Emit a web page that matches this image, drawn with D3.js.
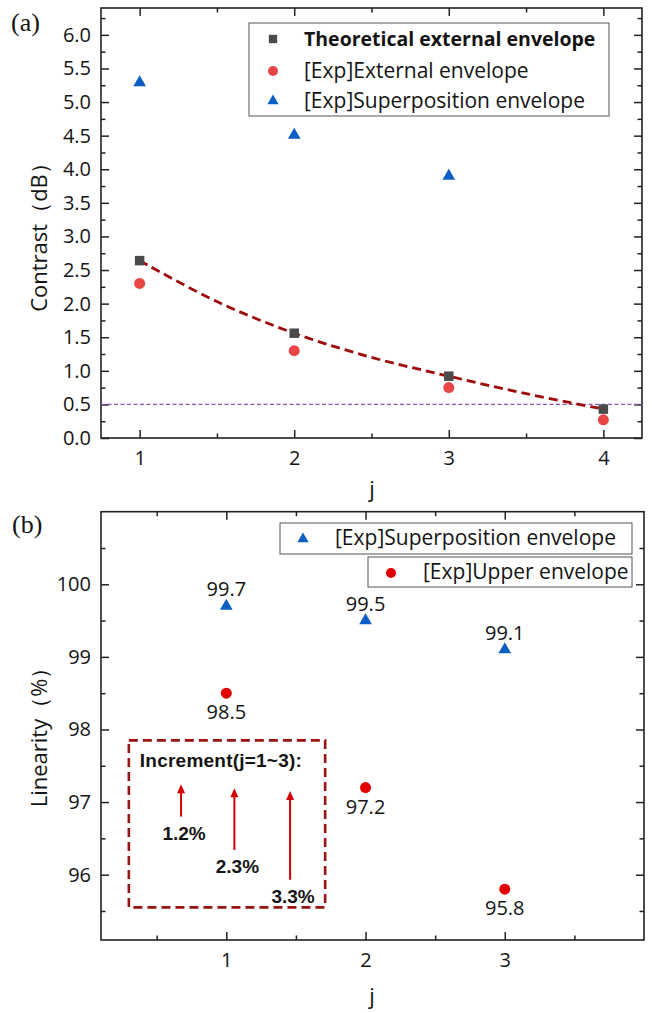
<!DOCTYPE html>
<html><head><meta charset="utf-8">
<script src="https://cdn.jsdelivr.net/npm/d3@7"></script>
<style>body{margin:0;background:#fff}svg{display:block}</style>
</head><body>
<script>
// ---------- data ----------
const jA = [1, 2, 3, 4];
const theoretical = [2.64, 1.56, 0.92, 0.43];
const expExternal = [2.30, 1.30, 0.75, 0.27];
const jSup = [1, 2, 3];
const expSuperA = [5.29, 4.51, 3.90];
const fitJ = [1, 1.5, 2, 2.5, 3, 3.5, 4];
const fitVal = [2.64, 2.03, 1.56, 1.20, 0.92, 0.66, 0.43];
const threshold = 0.5;
const yTicksA = [0, 0.5, 1, 1.5, 2, 2.5, 3, 3.5, 4, 4.5, 5, 5.5, 6];
const xTicksA = [1, 2, 3, 4];

const jB = [1, 2, 3];
const linSuper = [99.7, 99.5, 99.1];
const linUpper = [98.5, 97.2, 95.8];
const increments = [1.2, 2.3, 3.3];
const incX = [0.675, 1.058, 1.458];          // arrow positions (j units)
const incBase = [96.80, 96.34, 95.93];       // arrow tail (linearity units)
const yTicksB = [96, 97, 98, 99, 100];
const xTicksB = [1, 2, 3];

const W = 652, H = 1013;
const svg = d3.select("body").append("svg").attr("width", W).attr("height", H);
const FONT = "'Open Sans', 'Noto Sans', sans-serif";
const INK = "#141414";
const WT = 500;

function frame(g, x, y, majX, minX, majY, minY, yFmt) {
  const [x0, x1] = x.range(), [y0, y1] = y.range();
  const M = 8, m = 4.5;
  g.append("g").attr("transform", `translate(0,${y0})`)
    .call(d3.axisBottom(x).tickValues(majX).tickSize(-M).tickPadding(13).tickFormat(d3.format("d")));
  g.append("g").attr("transform", `translate(0,${y0})`)
    .call(d3.axisBottom(x).tickValues(minX).tickSize(-m).tickFormat(""));
  g.append("g").attr("transform", `translate(0,${y1})`)
    .call(d3.axisTop(x).tickValues(majX).tickSize(-M).tickFormat(""));
  g.append("g").attr("transform", `translate(0,${y1})`)
    .call(d3.axisTop(x).tickValues(minX).tickSize(-m).tickFormat(""));
  g.append("g").attr("transform", `translate(${x0},0)`)
    .call(d3.axisLeft(y).tickValues(majY).tickSize(-M).tickPadding(10).tickFormat(yFmt));
  g.append("g").attr("transform", `translate(${x0},0)`)
    .call(d3.axisLeft(y).tickValues(minY).tickSize(-m).tickFormat(""));
  g.append("g").attr("transform", `translate(${x1},0)`)
    .call(d3.axisRight(y).tickValues(majY).tickSize(-M).tickFormat(""));
  g.append("g").attr("transform", `translate(${x1},0)`)
    .call(d3.axisRight(y).tickValues(minY).tickSize(-m).tickFormat(""));
  g.selectAll(".domain").remove();
  g.selectAll(".tick line").attr("stroke", "#222").attr("stroke-width", 1.5);
  g.selectAll(".tick text").attr("font-family", FONT).attr("font-size", 20).attr("font-weight", WT).attr("fill", INK);
  g.append("rect").attr("x", x0).attr("y", y1).attr("width", x1 - x0).attr("height", y0 - y1)
    .attr("fill", "none").attr("stroke", "#222").attr("stroke-width", 1.6);
}

const tri = d3.symbol().type(d3.symbolTriangle).size(70);
const sq = d3.symbol().type(d3.symbolSquare).size(90);

// ================= Panel (a) =================
const xa = d3.scaleLinear().domain([0.75, 4.25]).range([101, 642]);
const ya = d3.scaleLinear().domain([0, 6.4]).range([438, 8]);
const ga = svg.append("g");
const minYA = d3.range(0, 6.4, 0.25).filter(v => Math.abs(v * 2 - Math.round(v * 2)) > 1e-6);
frame(ga, xa, ya, xTicksA, [1.5, 2.5, 3.5], yTicksA, minYA, d3.format(".1f"));

ga.append("line").attr("x1", xa.range()[0]).attr("x2", xa.range()[1])
  .attr("y1", ya(threshold)).attr("y2", ya(threshold))
  .attr("stroke", "#8a55b0").attr("stroke-width", 1.3).attr("stroke-dasharray", "4,2.5");

ga.append("path").datum(fitJ.map((j, i) => [j, fitVal[i]]))
  .attr("d", d3.line().x(d => xa(d[0])).y(d => ya(d[1])).curve(d3.curveCatmullRom))
  .attr("fill", "none").attr("stroke", "#9e0b0b").attr("stroke-width", 2.8).attr("stroke-dasharray", "9,5");

ga.selectAll(".sq").data(jA).join("path")
  .attr("transform", (d, i) => `translate(${xa(d)},${ya(theoretical[i])})`)
  .attr("d", sq).attr("fill", "#4a4a4a");
ga.selectAll(".ci").data(jA).join("circle")
  .attr("cx", d => xa(d)).attr("cy", (d, i) => ya(expExternal[i])).attr("r", 5.5).attr("fill", "#e84646");
ga.selectAll(".tr").data(jSup).join("path")
  .attr("transform", (d, i) => `translate(${xa(d)},${ya(expSuperA[i])})`)
  .attr("d", tri).attr("fill", "#0b5fc4");

// legend (a)
const la = ga.append("g");
la.append("rect").attr("x", 249).attr("y", 23).attr("width", 360).attr("height", 93)
  .attr("fill", "#fff").attr("stroke", "#555").attr("stroke-width", 1);
la.append("path").attr("transform", "translate(273,39)").attr("d", d3.symbol().type(d3.symbolSquare).size(70)).attr("fill", "#4a4a4a");
la.append("circle").attr("cx", 273).attr("cy", 71).attr("r", 5).attr("fill", "#e84646");
la.append("path").attr("transform", "translate(273,101)").attr("d", d3.symbol().type(d3.symbolTriangle).size(55)).attr("fill", "#0b5fc4");
const legA = ["Theoretical external envelope", "[Exp]External envelope", "[Exp]Superposition envelope"];
la.selectAll("text").data(legA).join("text")
  .attr("x", 304).attr("y", (d, i) => [39, 71, 101][i]).attr("dy", "0.35em")
  .attr("font-family", FONT).attr("font-size", (d, i) => i === 0 ? 19.5 : 21).attr("font-weight", (d, i) => i === 0 ? 700 : WT)
  .attr("fill", INK).text(d => d);

// labels (a)
svg.append("text").attr("x", 11).attr("y", 31).attr("font-family", "'Liberation Serif', serif")
  .attr("font-size", 26).attr("fill", INK).text("(a)");
svg.append("text").attr("transform", "translate(47,232) rotate(-90)").attr("text-anchor", "middle")
  .attr("font-family", FONT).attr("font-size", 22).attr("font-weight", WT).attr("fill", INK).text("Contrast（dB）");
svg.append("text").attr("x", 372).attr("y", 497).attr("text-anchor", "middle")
  .attr("font-family", FONT).attr("font-size", 22).attr("font-weight", WT).attr("fill", INK).text("j");

// ================= Panel (b) =================
const xb = d3.scaleLinear().domain([0.1, 4]).range([101, 644]);
const yb = d3.scaleLinear().domain([95.1, 101]).range([940, 511.7]);
const gb = svg.append("g");
frame(gb, xb, yb, xTicksB, [0.5, 1.5, 2.5, 3.5], yTicksB, [95.5, 96.5, 97.5, 98.5, 99.5, 100.5], d3.format("d"));

gb.selectAll(".tr").data(jB).join("path")
  .attr("transform", (d, i) => `translate(${xb(d)},${yb(linSuper[i])})`)
  .attr("d", tri).attr("fill", "#0b5fc4");
gb.selectAll(".ci").data(jB).join("circle")
  .attr("cx", d => xb(d)).attr("cy", (d, i) => yb(linUpper[i])).attr("r", 5.5).attr("fill", "#e00000");
gb.selectAll(".lt").data(jB).join("text")
  .attr("x", d => xb(d)).attr("y", (d, i) => yb(linSuper[i]) - 10).attr("text-anchor", "middle")
  .attr("font-family", FONT).attr("font-size", 20).attr("font-weight", WT).attr("fill", INK).text((d, i) => linSuper[i].toFixed(1));
gb.selectAll(".lc").data(jB).join("text")
  .attr("x", d => xb(d)).attr("y", (d, i) => yb(linUpper[i]) + 26).attr("text-anchor", "middle")
  .attr("font-family", FONT).attr("font-size", 20).attr("font-weight", WT).attr("fill", INK).text((d, i) => linUpper[i].toFixed(1));

// legend (b)
const lb = gb.append("g");
lb.append("rect").attr("x", 280).attr("y", 523).attr("width", 352).attr("height", 31)
  .attr("fill", "#fff").attr("stroke", "#555").attr("stroke-width", 1);
lb.append("path").attr("transform", "translate(303,539)").attr("d", d3.symbol().type(d3.symbolTriangle).size(55)).attr("fill", "#0b5fc4");
lb.append("text").attr("x", 335).attr("y", 538).attr("dy", "0.35em").attr("font-family", FONT)
  .attr("font-size", 21).attr("font-weight", WT).attr("fill", INK).text("[Exp]Superposition envelope");
lb.append("rect").attr("x", 368).attr("y", 557).attr("width", 264).attr("height", 30)
  .attr("fill", "#fff").attr("stroke", "#555").attr("stroke-width", 1);
lb.append("circle").attr("cx", 391).attr("cy", 573).attr("r", 5).attr("fill", "#e00000");
lb.append("text").attr("x", 423).attr("y", 572).attr("dy", "0.35em").attr("font-family", FONT)
  .attr("font-size", 21).attr("font-weight", WT).attr("fill", INK).text("[Exp]Upper envelope");

// annotation box
const ann = gb.append("g");
ann.append("rect").attr("x", xb(0.3)).attr("y", yb(97.85)).attr("width", xb(1.71) - xb(0.3))
  .attr("height", yb(95.55) - yb(97.85)).attr("fill", "none").attr("stroke", "#9b1414")
  .attr("stroke-width", 2.6).attr("stroke-dasharray", "9,5");
ann.append("text").attr("x", xb(0.3) + 11).attr("y", yb(97.85) + 27)
  .attr("font-family", "'Liberation Sans', Arial, sans-serif").attr("font-weight", 700)
  .attr("font-size", 19).attr("fill", INK).attr("textLength", 162).text("Increment(j=1~3):");
const ARROW_SCALE = 0.37; // linearity units per % increment (visual length)
const tipY = (d, i) => yb(incBase[i] + d * ARROW_SCALE);
ann.selectAll(".ar").data(increments).join("line")
  .attr("x1", (d, i) => xb(incX[i])).attr("x2", (d, i) => xb(incX[i]))
  .attr("y1", (d, i) => yb(incBase[i])).attr("y2", (d, i) => tipY(d, i) + 6)
  .attr("stroke", "#d40000").attr("stroke-width", 2);
ann.selectAll(".ah").data(increments).join("path")
  .attr("d", (d, i) => { const x = xb(incX[i]), y = tipY(d, i); return `M${x},${y}L${x - 4},${y + 9}L${x + 4},${y + 9}Z`; })
  .attr("fill", "#d40000");
ann.selectAll(".al").data(increments).join("text")
  .attr("x", (d, i) => xb(incX[i]) + 3).attr("y", (d, i) => yb(incBase[i]) + 23).attr("text-anchor", "middle")
  .attr("font-family", "'Liberation Sans', Arial, sans-serif").attr("font-weight", 700)
  .attr("font-size", 19).attr("fill", INK).text(d => d.toFixed(1) + "%");

svg.append("text").attr("x", 12).attr("y", 533).attr("font-family", "'Liberation Serif', serif")
  .attr("font-size", 26).attr("fill", INK).text("(b)");
svg.append("text").attr("transform", "translate(47,732) rotate(-90)").attr("text-anchor", "middle")
  .attr("font-family", FONT).attr("font-size", 22).attr("font-weight", WT).attr("fill", INK).text("Linearity（%）");
svg.append("text").attr("x", 372).attr("y", 1004).attr("text-anchor", "middle")
  .attr("font-family", FONT).attr("font-size", 22).attr("font-weight", WT).attr("fill", INK).text("j");
</script>
</body></html>
